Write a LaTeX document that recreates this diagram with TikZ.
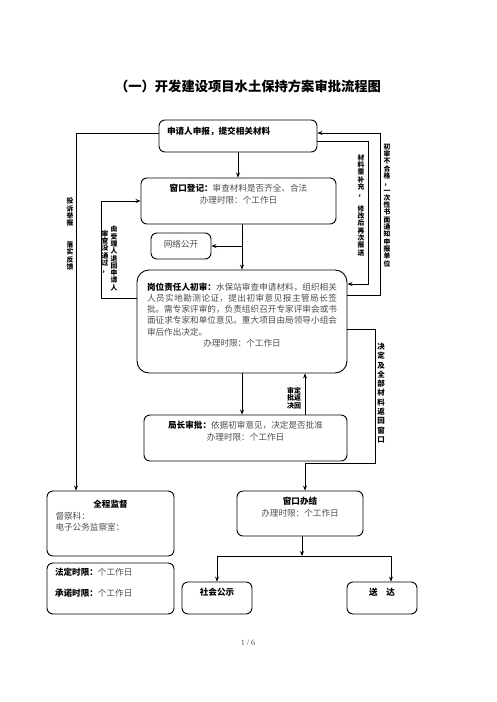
\documentclass[tikz,border=0pt]{standalone}
\usepackage{fontspec}
\setmainfont{Noto Sans CJK SC}
\newfontfamily\latinfont{Liberation Serif}
\usetikzlibrary{arrows.meta}
\XeTeXlinebreaklocale "zh"
\XeTeXlinebreakskip=0pt plus 1pt
\definecolor{bodygray}{gray}{0.3}

\begin{document}
\begin{tikzpicture}[x=1pt, y=-1pt,
    box/.style={draw, rounded corners=6pt, line width=0.9pt, inner sep=0pt, text=bodygray, font=\fontsize{8.6}{11.6}\selectfont},
    vlab/.style={inner sep=0pt, align=center, font=\bfseries\fontsize{6.8}{7.3}\selectfont},
    arr/.style={line width=0.8pt, -{Stealth[length=5pt,width=4pt]}}]

    \useasboundingbox (0,0) rectangle (496,702);

    % Draw nodes
    \node[font=\bfseries\fontsize{13.3}{15}\selectfont] (title) at (248,86) {（一）开发建设项目水土保持方案审批流程图};
    \node[box, minimum width=158pt, minimum height=32pt, text width=142pt, align=left, text depth=11pt, text=black] (apply) at (238,136) {\bfseries 申请人申报，提交相关材料};
    \node[box, minimum width=195pt, minimum height=46pt, align=center, text depth=14pt] (reg) at (238.5,201) {{\color{black}\bfseries 窗口登记：}审查材料是否齐全、合法\\办理时限：个工作日};
    \node[box, minimum width=60pt, minimum height=26pt, text depth=5pt] (pub) at (181,246) {网络公开};
    \node[box, rounded corners=12pt, minimum width=210pt, minimum height=103pt, text width=190pt, align=justify, text depth=70pt, font=\fontsize{8.6}{11.2}\selectfont] (check) at (242,321.5) {{\color{black}\bfseries 岗位责任人初审：}水保站审查申请材料，组织相关人员实地勘测论证，提出初审意见报主管局长签批。需专家评审的，负责组织召开专家评审会或书面征求专家和单位意见。重大项目由局领导小组会审后作出决定。\par{\centering 办理时限：个工作日\par}};
    \node[box, minimum width=203pt, minimum height=46pt, align=center, text depth=14pt] (director) at (245.5,438) {{\color{black}\bfseries 局长审批：}依据初审意见，决定是否批准\\办理时限：个工作日};
    \node[box, minimum width=127pt, minimum height=65pt, text width=110pt, align=left, text depth=39pt] (super) at (110.5,523.5) {\makebox[110pt]{\color{black}\bfseries 全程监督}\\督察科：\\电子公务监察室：};
    \node[box, minimum width=127pt, minimum height=51pt, text width=111pt, align=left, text depth=33pt] (limit) at (110.5,588.5) {{\color{black}\bfseries 法定时限：}个工作日\\[9pt]{\color{black}\bfseries 承诺时限：}个工作日};
    \node[box, minimum width=126pt, minimum height=45pt, align=center, text depth=14pt] (done) at (300,513.5) {{\color{black}\bfseries 窗口办结}\\办理时限：个工作日};
    \node[box, minimum width=70pt, minimum height=32pt, text depth=13pt, text=black] (notice) at (217,598) {\bfseries 社会公示};
    \node[box, minimum width=70pt, minimum height=32pt, text depth=13pt, text=black] (deliver) at (382,598) {\bfseries 送　达};
    \node[font=\latinfont\fontsize{8}{10}\selectfont, text=bodygray] (page) at (248,643) {1 / 6};

    % Draw edge labels
    \node[vlab] (complain) at (70,234) {投\\诉\\举\\报\\　\\　\\落\\实\\反\\馈};
    \node[vlab] (retpass) at (105,252) {审\\查\\没\\通\\过\\，};
    \node[vlab] (retby) at (114,258.5) {由\\受\\理\\人\\退\\回\\申\\请\\人};
    \node[vlab] (supply) at (361,205) {材\\料\\需\\补\\充\\，\\　\\修\\改\\后\\再\\次\\报\\送};
    \node[vlab] (notify) at (387,205) {初\\审\\不\\合\\格\\，\\一\\次\\性\\书\\面\\通\\知\\申\\报\\单\\位};
    \node[vlab, font=\bfseries\fontsize{7.5}{9.3}\selectfont] (backwin) at (381,393) {决\\定\\及\\全\\部\\材\\料\\返\\回\\窗\\口};
    \node[vlab, font=\bfseries\fontsize{7}{7.7}\selectfont] (backdec) at (294,398) {审定\\批返\\决回};

    % Draw directed edges
    \draw[arr] (apply.south) -- (apply.south |- reg.north);
    \draw[arr] (reg.south -| check.north) -- (check.north);
    \draw[arr] (check.north |- pub.east) -- (pub.east);
    \draw[arr] (check.south) -- (check.south |- director.north);
    \draw[arr] ([xshift=59.5pt]director.north) -- ([xshift=59.5pt]director.north |- check.south);
    \draw[arr] ([yshift=3pt]apply.west) -| ([xshift=-34.5pt]super.north);
    \draw[arr] ([yshift=23.5pt]check.west) -- ++(-35,0) |- (reg.west);
    \draw[arr] ([yshift=26.5pt]check.east) -- ++(33,0) |- ([yshift=3pt]apply.east);
    \draw[arr] ([yshift=-5pt]apply.east) -- ++(51,0) |- ([yshift=37.5pt]check.east);
    \draw[arr] ([yshift=-7.5pt]check.east) -- ++(28,0) -- ++(0,134) -| ([xshift=5pt]done.north);

    % Draw branches
    \coordinate (fork) at (302,556);
    \draw[arr] ([xshift=2pt]done.south) -- (fork);
    \draw[arr] (fork) -| (notice.north);
    \draw[arr] (fork) -| ([xshift=9pt]deliver.north);
\end{tikzpicture}
\end{document}
